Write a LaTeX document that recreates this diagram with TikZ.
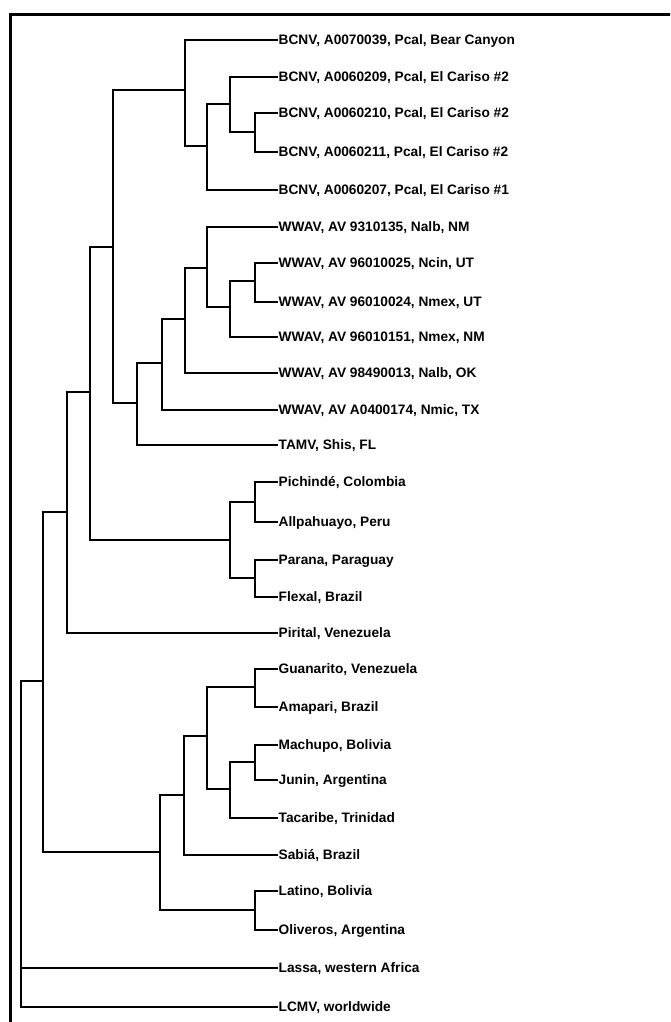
\documentclass[tikz,border=0pt]{standalone}
\usepackage{fontspec}
\setmainfont{Liberation Sans}
\usetikzlibrary{calc}
\tikzset {taxon/.style={anchor=west,inner sep=1.5pt,text height=9.8pt,text depth=0pt,
  font=\bfseries\fontsize{13.7}{16}\selectfont},
  branch/.style={line width=1.5pt,line cap=rect}}

\begin{document}
\begin{tikzpicture}[x=1pt,y=-1pt]
\useasboundingbox (0,0) rectangle (670,1022);
\clip (0,0) rectangle (670,1022);
\draw[line width=2.6pt] (10.5,1040) |- (690,14.5);
% taxa
\foreach \n/\y/\t in {bear/40/{BCNV, A0070039, Pcal, Bear Canyon},
  carisoA/77/{BCNV, A0060209, Pcal, El Cariso \#2},
  carisoB/113/{BCNV, A0060210, Pcal, El Cariso \#2},
  carisoC/152/{BCNV, A0060211, Pcal, El Cariso \#2},
  carisoD/190/{BCNV, A0060207, Pcal, El Cariso \#1},
  nalbNM/227/{WWAV, AV 9310135, Nalb, NM},
  ncinUT/263/{WWAV, AV 96010025, Ncin, UT},
  nmexUT/302/{WWAV, AV 96010024, Nmex, UT},
  nmexNM/337/{WWAV, AV 96010151, Nmex, NM},
  nalbOK/373/{WWAV, AV 98490013, Nalb, OK},
  nmicTX/410/{WWAV, AV A0400174, Nmic, TX},
  tamv/445/{TAMV, Shis, FL},
  pichinde/482/{Pichindé, Colombia},
  allpa/522/{Allpahuayo, Peru},
  parana/560/{Parana, Paraguay},
  flexal/597/{Flexal, Brazil},
  pirital/633/{Pirital, Venezuela},
  guanarito/669/{Guanarito, Venezuela},
  amapari/707/{Amapari, Brazil},
  machupo/745/{Machupo, Bolivia},
  junin/780/{Junin, Argentina},
  tacaribe/818/{Tacaribe, Trinidad},
  sabia/855/{Sabiá, Brazil},
  latino/891/{Latino, Bolivia},
  oliveros/930/{Oliveros, Argentina},
  lassa/968/{Lassa, western Africa},
  lcmv/1007/{LCMV, worldwide}}
  \node[taxon] (\n) at (277,\y) {\t};
% internal nodes
\coordinate (bcA) at (255,132);
\coordinate (bcB) at (230,104);
\coordinate (bcC) at (207,146);
\coordinate (bcD) at (185,90);
\coordinate (wwA) at (255,281);
\coordinate (wwB) at (230,307);
\coordinate (wwC) at (207,268);
\coordinate (wwD) at (185,319);
\coordinate (wwE) at (162,363);
\coordinate (wwF) at (137,403);
\coordinate (naA) at (113,247);
\coordinate (saA) at (255,502);
\coordinate (saB) at (255,578);
\coordinate (saC) at (230,540);
\coordinate (naB) at (90,392);
\coordinate (naC) at (67,512);
\coordinate (tcA) at (255,687);
\coordinate (tcB) at (255,762);
\coordinate (tcC) at (230,789);
\coordinate (tcD) at (207,736);
\coordinate (tcE) at (184,795);
\coordinate (tcF) at (255,910);
\coordinate (tcG) at (160,852);
\coordinate (naD) at (43,681);
\coordinate (root) at (21,844);
% branches
\draw[branch] (bcA) |- (carisoB.west) (bcA) |- (carisoC.west);
\draw[branch] (bcB) |- (carisoA.west) (bcB) |- (bcA);
\draw[branch] (bcC) |- (bcB) (bcC) |- (carisoD.west);
\draw[branch] (bcD) |- (bear.west) (bcD) |- (bcC);
\draw[branch] (wwA) |- (ncinUT.west) (wwA) |- (nmexUT.west);
\draw[branch] (wwB) |- (wwA) (wwB) |- (nmexNM.west);
\draw[branch] (wwC) |- (nalbNM.west) (wwC) |- (wwB);
\draw[branch] (wwD) |- (wwC) (wwD) |- (nalbOK.west);
\draw[branch] (wwE) |- (wwD) (wwE) |- (nmicTX.west);
\draw[branch] (wwF) |- (wwE) (wwF) |- (tamv.west);
\draw[branch] (naA) |- (bcD) (naA) |- (wwF);
\draw[branch] (saA) |- (pichinde.west) (saA) |- (allpa.west);
\draw[branch] (saB) |- (parana.west) (saB) |- (flexal.west);
\draw[branch] (saC) |- (saA) (saC) |- (saB);
\draw[branch] (naB) |- (naA) (naB) |- (saC);
\draw[branch] (naC) |- (naB) (naC) |- (pirital.west);
\draw[branch] (tcA) |- (guanarito.west) (tcA) |- (amapari.west);
\draw[branch] (tcB) |- (machupo.west) (tcB) |- (junin.west);
\draw[branch] (tcC) |- (tcB) (tcC) |- (tacaribe.west);
\draw[branch] (tcD) |- (tcA) (tcD) |- (tcC);
\draw[branch] (tcE) |- (tcD) (tcE) |- (sabia.west);
\draw[branch] (tcF) |- (latino.west) (tcF) |- (oliveros.west);
\draw[branch] (tcG) |- (tcE) (tcG) |- (tcF);
\draw[branch] (naD) |- (naC) (naD) |- (tcG);
\draw[branch] (root) |- (naD) (root) |- (lassa.west) (root) |- (lcmv.west);
\end{tikzpicture}
\end{document}
